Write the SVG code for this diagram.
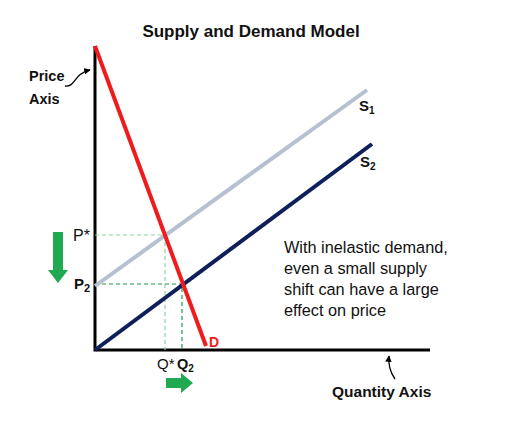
<svg xmlns="http://www.w3.org/2000/svg" width="512" height="435" viewBox="0 0 512 435">
<defs>
<style>
text{font-family:"Liberation Sans","DejaVu Sans",sans-serif;fill:#111}
.b{font-weight:bold}
.axis{stroke:#000;stroke-width:3;fill:none}
.dash1{stroke:#8fd3a0;stroke-width:1.2;stroke-dasharray:4 3;fill:none}
.dash2{stroke:#1f9a45;stroke-width:1.2;stroke-dasharray:4 3;fill:none}
.green{fill:#1faa52}
</style>
<marker id="ah" viewBox="0 0 10 10" refX="9" refY="5" markerWidth="5" markerHeight="5" orient="auto"><path d="M0,0 L10,5 L0,10 z" fill="#000"/></marker>
</defs>
<rect width="512" height="435" fill="#fff"/>
<text x="251" y="37" class="b" font-size="17" text-anchor="middle">Supply and Demand Model</text>
<g id="axes">
<path class="axis" d="M95,46 V350 H430"/>
</g>
<g id="connectors">
<path class="dash1" d="M95,235 H165 V350"/>
<path class="dash2" d="M95,284 H182 V350"/>
<path d="M65,86 C76,87 73,74 90,70" stroke="#000" stroke-width="1.3" fill="none" marker-end="url(#ah)"/>
<path d="M395,379 C390,372 388,366 389,356" stroke="#000" stroke-width="1.3" fill="none" marker-end="url(#ah)"/>
</g>
<g id="S1"><line x1="95" y1="286" x2="367" y2="90" stroke="#b6c0d0" stroke-width="4"/><text x="359" y="111" class="b" font-size="15">S<tspan font-size="10" dy="3">1</tspan></text></g>
<g id="S2"><line x1="95" y1="350" x2="372" y2="144" stroke="#0f1f5a" stroke-width="4"/><text x="360" y="167" class="b" font-size="15">S<tspan font-size="10" dy="3">2</tspan></text></g>
<g id="D"><line x1="95" y1="46" x2="206" y2="346" stroke="#ee1c1c" stroke-width="4"/><text x="209" y="347" class="b" font-size="14" style="fill:#ee1c1c">D</text></g>
<g id="labels">
<text x="29" y="81" class="b" font-size="14.5">Price</text>
<text x="29" y="104" class="b" font-size="14.5">Axis</text>
<text x="73" y="241" font-size="16">P*</text>
<text x="74" y="289" class="b" font-size="15">P<tspan font-size="11" dy="3">2</tspan></text>
<text x="157" y="369" font-size="15">Q*</text>
<text x="177" y="369" class="b" font-size="14.5">Q<tspan font-size="10" dy="3">2</tspan></text>
<text x="332" y="397" class="b" font-size="15.5">Quantity Axis</text>
<text font-size="16.3"><tspan x="284" y="253">With inelastic demand,</tspan><tspan x="284" y="274">even a small supply</tspan><tspan x="284" y="295">shift can have a large</tspan><tspan x="284" y="316">effect on price</tspan></text>
</g>
<g id="arrows">
<path class="green" d="M53,232 H63 V270 H68 L58,283 L48,270 H53 Z"/>
<path class="green" d="M166,378 H181 V373 L193,383 L181,393 V388 H166 Z"/>
</g>
</svg>
